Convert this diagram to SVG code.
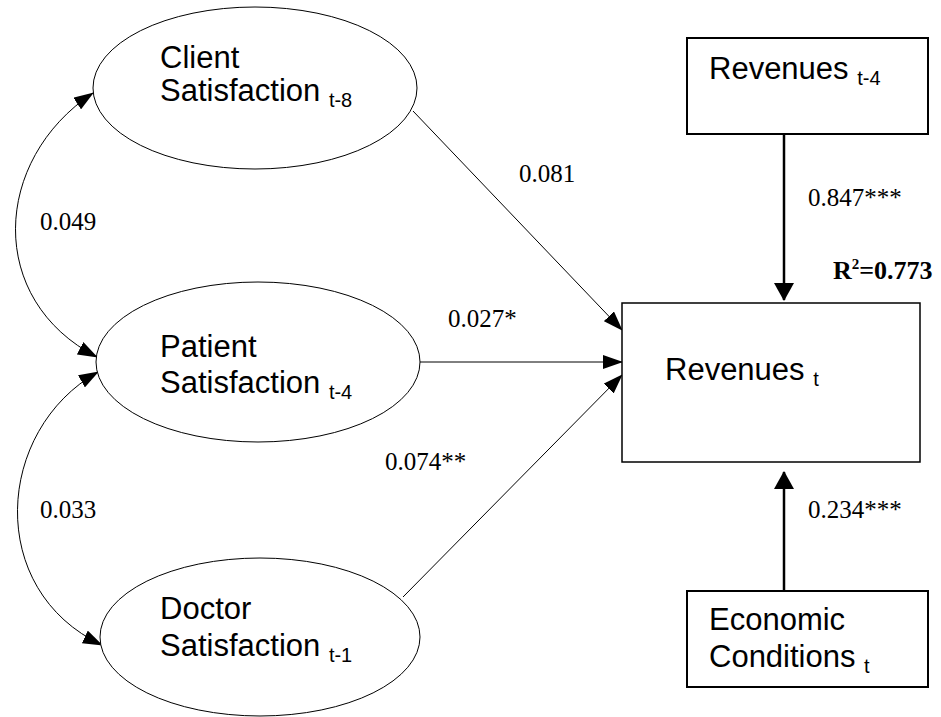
<svg xmlns="http://www.w3.org/2000/svg" width="941" height="717" viewBox="0 0 941 717">
<style>
.node{fill:#fff;stroke:#000}
.lbl{font-family:"Liberation Sans",Arial,sans-serif;font-size:31px;fill:#000}
.sub{font-size:20px}
.coef{font-family:"Liberation Serif","Times New Roman",serif;font-size:25px;fill:#000}
.thin{fill:none;stroke:#000;stroke-width:1}
.thick{fill:none;stroke:#000;stroke-width:2.5}
</style>
<defs>
<marker id="ah" markerUnits="userSpaceOnUse" markerWidth="20" markerHeight="14" refX="19" refY="7" orient="auto-start-reverse" viewBox="0 0 20 14">
<path d="M0,0 L20,7 L0,14 z" fill="#000"/>
</marker>
<marker id="ahb" markerUnits="userSpaceOnUse" markerWidth="18" markerHeight="20" refX="17" refY="10" orient="auto" viewBox="0 0 18 20">
<path d="M0,0 L18,10 L0,20 z" fill="#000"/>
</marker>
</defs>
<rect width="941" height="717" fill="#fff"/>
<g id="connectors">
<path class="thin" d="M93,93 C -8,160 -14,300 97,357" marker-start="url(#ah)" marker-end="url(#ah)"/>
<path class="thin" d="M98,372 C -5,430 -15,590 102,645" marker-start="url(#ah)" marker-end="url(#ah)"/>
<line class="thin" x1="413" y1="111" x2="622" y2="330" marker-end="url(#ah)"/>
<line class="thin" x1="420" y1="362" x2="622" y2="362" marker-end="url(#ah)"/>
<line class="thin" x1="403" y1="597" x2="622" y2="375" marker-end="url(#ah)"/>
<line class="thick" x1="784" y1="134" x2="784" y2="300" marker-end="url(#ahb)"/>
<line class="thick" x1="784" y1="591" x2="784" y2="472" marker-end="url(#ahb)"/>
<text class="coef" x="40" y="230">0.049</text>
<text class="coef" x="40" y="518">0.033</text>
<text class="coef" x="519" y="182">0.081</text>
<text class="coef" x="448" y="327">0.027*</text>
<text class="coef" x="385" y="470">0.074**</text>
<text class="coef" x="808" y="206">0.847***</text>
<text class="coef" x="808" y="518">0.234***</text>
<text class="coef" x="833" y="279" style="font-weight:bold;font-size:26px">R<tspan dy="-10" style="font-size:15px">2</tspan><tspan dy="10">=0.773</tspan></text>
</g>
<g id="client">
<ellipse class="node" cx="255" cy="88" rx="162" ry="81" stroke-width="1"/>
<text class="lbl" x="160" y="68">Client</text>
<text class="lbl" x="160" y="101">Satisfaction <tspan class="sub" dy="6">t-8</tspan></text>
</g>
<g id="patient">
<ellipse class="node" cx="258" cy="362" rx="162" ry="80" stroke-width="1"/>
<text class="lbl" x="160" y="357">Patient</text>
<text class="lbl" x="160" y="393">Satisfaction <tspan class="sub" dy="6">t-4</tspan></text>
</g>
<g id="doctor">
<ellipse class="node" cx="260" cy="637" rx="160" ry="79" stroke-width="1"/>
<text class="lbl" x="160" y="619">Doctor</text>
<text class="lbl" x="160" y="656">Satisfaction <tspan class="sub" dy="6">t-1</tspan></text>
</g>
<g id="revenues_t4">
<rect class="node" x="687" y="38" width="241" height="96" stroke-width="2"/>
<text class="lbl" x="709" y="79">Revenues <tspan class="sub" dy="6">t-4</tspan></text>
</g>
<g id="revenues_t">
<rect class="node" x="622" y="303" width="298" height="159" stroke-width="1.5"/>
<text class="lbl" x="665" y="380">Revenues <tspan class="sub" dy="6">t</tspan></text>
</g>
<g id="economic">
<rect class="node" x="687" y="591" width="241" height="96" stroke-width="2"/>
<text class="lbl" x="709" y="630">Economic</text>
<text class="lbl" x="709" y="667">Conditions <tspan class="sub" dy="6">t</tspan></text>
</g>
</svg>
